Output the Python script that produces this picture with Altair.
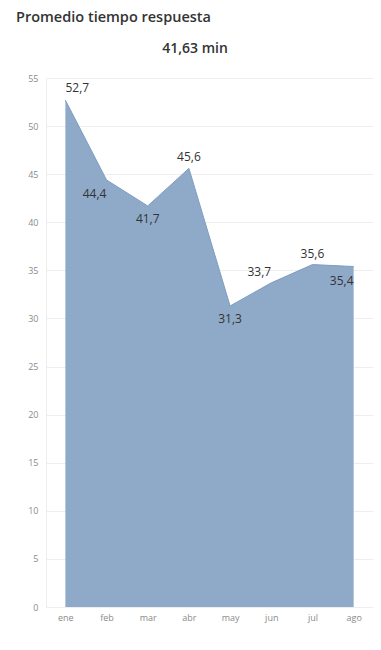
import altair as alt
import pandas as pd

months = ["ene", "feb", "mar", "abr", "may", "jun", "jul", "ago"]
values = [52.7, 44.4, 41.7, 45.6, 31.3, 33.7, 35.6, 35.4]
labels = ["52,7", "44,4", "41,7", "45,6", "31,3", "33,7", "35,6", "35,4"]
placement = ["above-right", "below-left", "below", "above", "below", "above-left", "above", "below-left"]
y_ticks = [0, 5, 10, 15, 20, 25, 30, 35, 40, 45, 50, 55]
title_text = "Promedio tiempo respuesta"
kpi_text = "41,63 min"

df = pd.DataFrame({"mes": months, "valor": values, "etiqueta": labels, "pos": placement})

x = alt.X("mes:N", sort=months,
          scale=alt.Scale(type="point", padding=0.47),
          axis=alt.Axis(title=None, labelAngle=0, labelColor="#8a8a8a", labelFontSize=9,
                        labelFont="Open Sans", ticks=False, domain=True, domainColor="#eeeeee",
                        labelPadding=6, grid=False))
y = alt.Y("valor:Q", scale=alt.Scale(domain=[0, 55], nice=False),
          axis=alt.Axis(title=None, values=y_ticks, labelColor="#8a8a8a", labelFontSize=9,
                        labelFont="Open Sans", ticks=False, domain=True, domainColor="#eeeeee",
                        gridColor="#eeeeee", labelPadding=8))

base = alt.Chart(df)
area = base.mark_area(color="#8FAAC8", opacity=1, line={"color": "#7f9dbf", "strokeWidth": 1}).encode(x=x, y=y)

offsets = {
    "above-right": (12, -12),
    "below-left": (-12, 14),
    "below": (0, 13),
    "above": (0, -11),
    "above-left": (-12, -11),
}
layers = [area]
for p, (dx, dy) in offsets.items():
    layers.append(
        base.transform_filter(alt.datum.pos == p)
        .mark_text(dx=dx, dy=dy, fontSize=12, font="Open Sans", color="#333333")
        .encode(x=alt.X("mes:N", sort=months), y="valor:Q", text="etiqueta:N")
    )

title_df = pd.DataFrame({"t": [title_text]})
kpi_df = pd.DataFrame({"t": [kpi_text]})
title = alt.Chart(title_df).mark_text(align="left", baseline="top", fontSize=14.5, fontWeight=600,
                                      font="Open Sans", color="#333333").encode(
    x=alt.value(-30), y=alt.value(-67), text="t:N")
kpi = alt.Chart(kpi_df).mark_text(align="center", baseline="middle", fontSize=14, fontWeight=600,
                                  font="Open Sans", color="#333333").encode(
    x=alt.value(149), y=alt.value(-29), text="t:N")

chart = alt.layer(*layers, title, kpi).properties(
    width=327, height=529,
    autosize=alt.AutoSizeParams(type="none"),
    padding={"left": 38, "top": 70, "right": 0, "bottom": 22},
).configure_view(stroke=None)

chart.save("out.html", embed_options={"renderer": "svg", "actions": False})
